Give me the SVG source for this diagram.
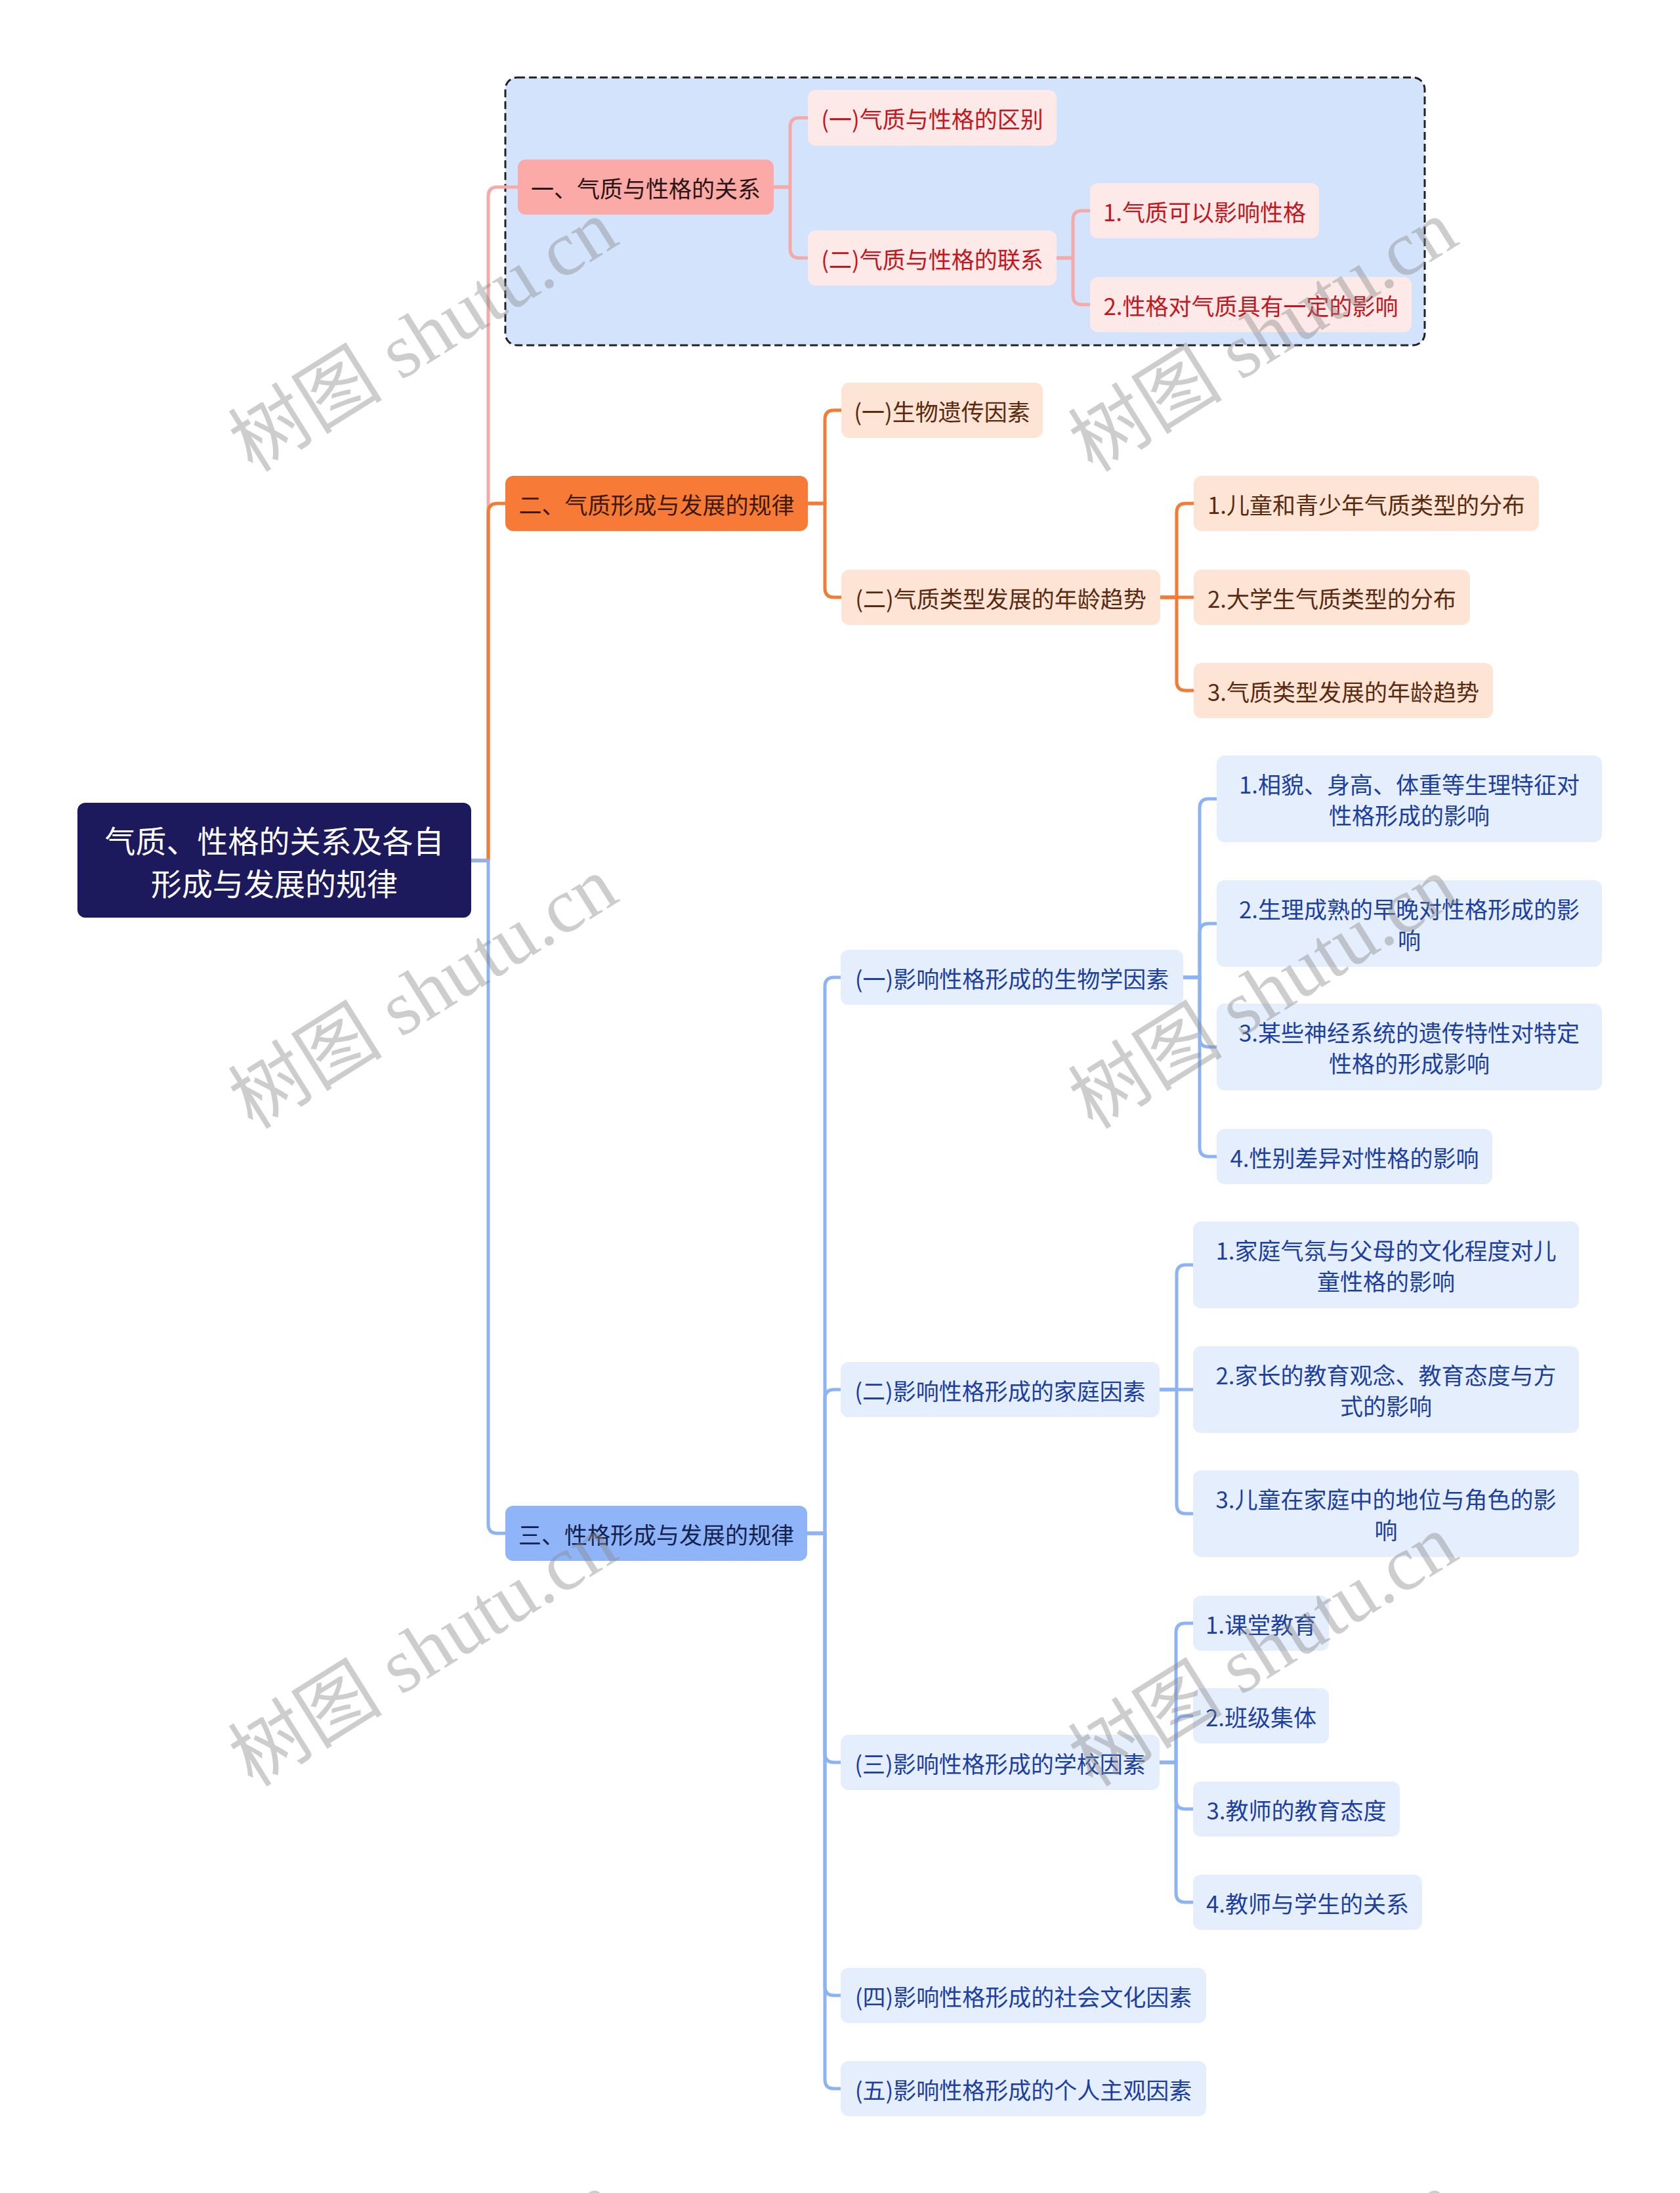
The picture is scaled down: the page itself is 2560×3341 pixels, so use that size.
<svg xmlns="http://www.w3.org/2000/svg" width="2560" height="3341" viewBox="0 0 2560 3341">
<style>
text{font-family:"Noto Sans CJK SC","Noto Sans",sans-serif;text-anchor:middle;dominant-baseline:central}
.t{font-size:35px}
.root rect{fill:#1c1a5c}
.root text{font-size:47px;fill:#ffffff}
.p1 rect{fill:#fbaaa8}.p1 text{fill:#2b1414}
.p2 rect{fill:#fde9e8}.p2 text{fill:#c4161c}
.o1 rect{fill:#f77b36}.o1 text{fill:#3e1a05}
.o2 rect{fill:#fde4d4}.o2 text{fill:#5a2a10}
.b1 rect{fill:#8fb5f8}.b1 text{fill:#13214f}
.b2 rect{fill:#e5eefc}.b2 text{fill:#1c3fa0}
.c{fill:none;stroke-width:5;stroke-linecap:round;stroke-linejoin:round}
.cp{stroke:#f5a9a8}.co{stroke:#f47b35}.cb{stroke:#8db3f5}
.wm{font-family:"Liberation Serif","Noto Sans CJK SC",serif;font-size:118px;fill:#8a8a8a;opacity:0.42}
</style>
<rect id="frame" x="770" y="118" width="1401" height="408" rx="18" fill="#d3e3fb" stroke="#222222" stroke-width="3" stroke-dasharray="12 6"/>
<g id="connectors">
<path class="c cp" d="M718 1311 H744 V299 Q744 285 758 285 H789"/>
<path class="c co" d="M718 1311 H744 V781 Q744 767 758 767 H770"/>
<path class="c cb" d="M718 1311 H744 V2322 Q744 2336 758 2336 H770"/>
<path class="c cp" d="M1179 285 H1204 V193.5 Q1204 179.5 1218 179.5 H1231"/>
<path class="c cp" d="M1179 285 H1204 V379 Q1204 393 1218 393 H1231"/>
<path class="c cp" d="M1610 393 H1635 V335 Q1635 321 1649 321 H1661"/>
<path class="c cp" d="M1610 393 H1635 V450 Q1635 464 1649 464 H1661"/>
<path class="c co" d="M1231 767 H1257 V639 Q1257 625 1271 625 H1282"/>
<path class="c co" d="M1231 767 H1257 V896 Q1257 910 1271 910 H1282"/>
<path class="c co" d="M1768 910 H1793 V781 Q1793 767 1807 767 H1819"/>
<path class="c co" d="M1768 910 H1819"/>
<path class="c co" d="M1768 910 H1793 V1038 Q1793 1052 1807 1052 H1819"/>
<path class="c cb" d="M1230 2336 H1257 V1503 Q1257 1489 1271 1489 H1281"/>
<path class="c cb" d="M1230 2336 H1257 V2131 Q1257 2117 1271 2117 H1281"/>
<path class="c cb" d="M1230 2336 H1257 V2671 Q1257 2685 1271 2685 H1281"/>
<path class="c cb" d="M1230 2336 H1257 V3026 Q1257 3040 1271 3040 H1281"/>
<path class="c cb" d="M1230 2336 H1257 V3168 Q1257 3182 1271 3182 H1281"/>
<path class="c cb" d="M1803 1489 H1828 V1231 Q1828 1217 1842 1217 H1854"/>
<path class="c cb" d="M1803 1489 H1828 V1421 Q1828 1407 1842 1407 H1854"/>
<path class="c cb" d="M1803 1489 H1828 V1581 Q1828 1595 1842 1595 H1854"/>
<path class="c cb" d="M1803 1489 H1828 V1748 Q1828 1762 1842 1762 H1854"/>
<path class="c cb" d="M1767 2117 H1793 V1941 Q1793 1927 1807 1927 H1818"/>
<path class="c cb" d="M1767 2117 H1818"/>
<path class="c cb" d="M1767 2117 H1793 V2292 Q1793 2306 1807 2306 H1818"/>
<path class="c cb" d="M1767 2685 H1792 V2487 Q1792 2473 1806 2473 H1818"/>
<path class="c cb" d="M1767 2685 H1792 V2628 Q1792 2614 1806 2614 H1818"/>
<path class="c cb" d="M1767 2685 H1792 V2742 Q1792 2756 1806 2756 H1818"/>
<path class="c cb" d="M1767 2685 H1792 V2884 Q1792 2898 1806 2898 H1818"/>
</g>
<g id="root" class="root"><rect x="118" y="1223" width="600" height="175" rx="12"/><text x="418" y="1278">气质、性格的关系及各自</text><text x="418" y="1343">形成与发展的规律</text></g>
<g id="n1" class="p1"><rect x="789" y="243" width="390" height="84" rx="12"/><text class="t" x="984" y="285">一、气质与性格的关系</text></g>
<g id="n1a" class="p2"><rect x="1231" y="137" width="379" height="85" rx="12"/><text class="t" x="1420.5" y="179.5">(一)气质与性格的区别</text></g>
<g id="n1b" class="p2"><rect x="1231" y="351" width="379" height="84" rx="12"/><text class="t" x="1420.5" y="393">(二)气质与性格的联系</text></g>
<g id="n1b1" class="p2"><rect x="1661" y="279" width="349" height="84" rx="12"/><text class="t" x="1835.5" y="321">1.气质可以影响性格</text></g>
<g id="n1b2" class="p2"><rect x="1661" y="422" width="490" height="84" rx="12"/><text class="t" x="1906" y="464">2.性格对气质具有一定的影响</text></g>
<g id="n2" class="o1"><rect x="770" y="725" width="461" height="84" rx="12"/><text class="t" x="1000.5" y="767">二、气质形成与发展的规律</text></g>
<g id="n2a" class="o2"><rect x="1282" y="583" width="307" height="84" rx="12"/><text class="t" x="1435.5" y="625">(一)生物遗传因素</text></g>
<g id="n2b" class="o2"><rect x="1282" y="868" width="486" height="84" rx="12"/><text class="t" x="1525" y="910">(二)气质类型发展的年龄趋势</text></g>
<g id="n2b1" class="o2"><rect x="1819" y="725" width="526" height="84" rx="12"/><text class="t" x="2082" y="767">1.儿童和青少年气质类型的分布</text></g>
<g id="n2b2" class="o2"><rect x="1819" y="868" width="421" height="84" rx="12"/><text class="t" x="2029.5" y="910">2.大学生气质类型的分布</text></g>
<g id="n2b3" class="o2"><rect x="1819" y="1010" width="456" height="84" rx="12"/><text class="t" x="2047" y="1052">3.气质类型发展的年龄趋势</text></g>
<g id="n3" class="b1"><rect x="770" y="2294" width="460" height="84" rx="12"/><text class="t" x="1000" y="2336">三、性格形成与发展的规律</text></g>
<g id="n3a" class="b2"><rect x="1281" y="1447" width="522" height="84" rx="12"/><text class="t" x="1542" y="1489">(一)影响性格形成的生物学因素</text></g>
<g id="n3a1" class="b2"><rect x="1854" y="1151" width="587" height="132" rx="12"/><text class="t" x="2147.5" y="1193.5">1.相貌、身高、体重等生理特征对</text><text class="t" x="2147.5" y="1240.5">性格形成的影响</text></g>
<g id="n3a2" class="b2"><rect x="1854" y="1341" width="587" height="132" rx="12"/><text class="t" x="2147.5" y="1383.5">2.生理成熟的早晚对性格形成的影</text><text class="t" x="2147.5" y="1430.5">响</text></g>
<g id="n3a3" class="b2"><rect x="1854" y="1529" width="587" height="132" rx="12"/><text class="t" x="2147.5" y="1571.5">3.某些神经系统的遗传特性对特定</text><text class="t" x="2147.5" y="1618.5">性格的形成影响</text></g>
<g id="n3a4" class="b2"><rect x="1854" y="1720" width="420" height="84" rx="12"/><text class="t" x="2064" y="1762">4.性别差异对性格的影响</text></g>
<g id="n3b" class="b2"><rect x="1281" y="2075" width="486" height="84" rx="12"/><text class="t" x="1524" y="2117">(二)影响性格形成的家庭因素</text></g>
<g id="n3b1" class="b2"><rect x="1818" y="1861" width="588" height="132" rx="12"/><text class="t" x="2112" y="1903.5">1.家庭气氛与父母的文化程度对儿</text><text class="t" x="2112" y="1950.5">童性格的影响</text></g>
<g id="n3b2" class="b2"><rect x="1818" y="2051" width="588" height="132" rx="12"/><text class="t" x="2112" y="2093.5">2.家长的教育观念、教育态度与方</text><text class="t" x="2112" y="2140.5">式的影响</text></g>
<g id="n3b3" class="b2"><rect x="1818" y="2240" width="588" height="132" rx="12"/><text class="t" x="2112" y="2282.5">3.儿童在家庭中的地位与角色的影</text><text class="t" x="2112" y="2329.5">响</text></g>
<g id="n3c" class="b2"><rect x="1281" y="2643" width="486" height="84" rx="12"/><text class="t" x="1524" y="2685">(三)影响性格形成的学校因素</text></g>
<g id="n3c1" class="b2"><rect x="1818" y="2431" width="207" height="84" rx="12"/><text class="t" x="1921.5" y="2473">1.课堂教育</text></g>
<g id="n3c2" class="b2"><rect x="1818" y="2572" width="207" height="84" rx="12"/><text class="t" x="1921.5" y="2614">2.班级集体</text></g>
<g id="n3c3" class="b2"><rect x="1818" y="2714" width="315" height="84" rx="12"/><text class="t" x="1975.5" y="2756">3.教师的教育态度</text></g>
<g id="n3c4" class="b2"><rect x="1818" y="2856" width="349" height="84" rx="12"/><text class="t" x="1992.5" y="2898">4.教师与学生的关系</text></g>
<g id="n3d" class="b2"><rect x="1281" y="2998" width="557" height="84" rx="12"/><text class="t" x="1559.5" y="3040">(四)影响性格形成的社会文化因素</text></g>
<g id="n3e" class="b2"><rect x="1281" y="3140" width="557" height="84" rx="12"/><text class="t" x="1559.5" y="3182">(五)影响性格形成的个人主观因素</text></g>
<g id="watermarks">
<text class="wm" transform="translate(645 512) rotate(-32)">树图 shutu.cn</text>
<text class="wm" transform="translate(1925 512) rotate(-32)">树图 shutu.cn</text>
<text class="wm" transform="translate(645 1513) rotate(-32)">树图 shutu.cn</text>
<text class="wm" transform="translate(1925 1513) rotate(-32)">树图 shutu.cn</text>
<text class="wm" transform="translate(645 2515) rotate(-32)">树图 shutu.cn</text>
<text class="wm" transform="translate(1925 2515) rotate(-32)">树图 shutu.cn</text>
<text class="wm" transform="translate(645 3517) rotate(-32)">树图 shutu.cn</text>
<text class="wm" transform="translate(1925 3517) rotate(-32)">树图 shutu.cn</text>
</g>
</svg>
